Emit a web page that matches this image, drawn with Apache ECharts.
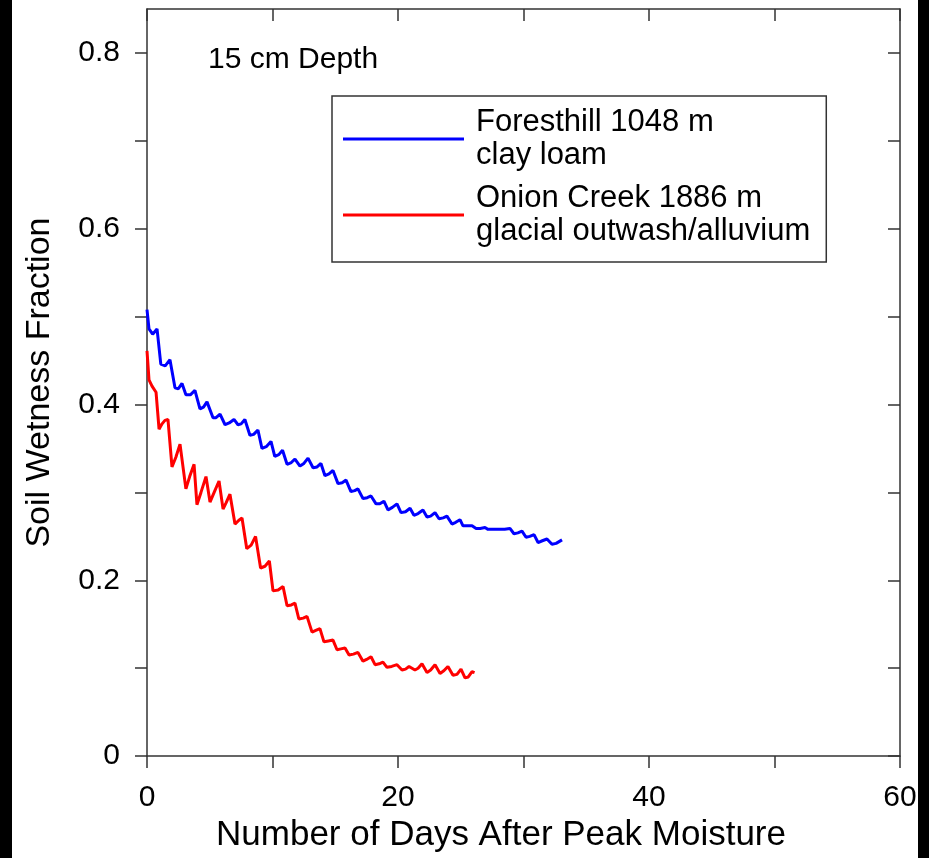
<!DOCTYPE html>
<html>
<head>
<meta charset="utf-8">
<script src="https://cdn.jsdelivr.net/npm/echarts@6/dist/echarts.min.js"></script>
<style>
html,body{margin:0;padding:0;background:#000;}
#chart{width:929px;height:858px;}
</style>
</head>
<body>
<div id="chart"></div>
<script>
// ---- Data ----
var seriesNames = ['Foresthill 1048 m', 'Onion Creek 1886 m'];
var soilTypes = ['clay loam', 'glacial outwash/alluvium'];
var seriesColors = ['#0000ff', '#ff0000'];
var annotationText = '15 cm Depth';
var xTitle = 'Number of Days After Peak Moisture';
var yTitle = 'Soil Wetness Fraction';
var xTickValues = [0, 10, 20, 30, 40, 50, 60];
var xLabelValues = [0, 20, 40, 60];
var yTickValues = [0, 0.1, 0.2, 0.3, 0.4, 0.5, 0.6, 0.7, 0.8];
var yLabelValues = [0, 0.2, 0.4, 0.6, 0.8];

var foresthillDays = [0.00,0.16,0.45,0.80,1.10,1.45,1.83,2.23,2.50,2.79,3.10,3.45,3.82,4.22,4.50,4.78,5.26,5.50,5.82,6.22,6.55,6.93,7.25,7.50,7.80,8.20,8.50,8.84,9.16,9.50,9.88,10.18,10.50,10.80,11.16,11.50,11.79,12.19,12.50,12.83,13.23,13.55,13.86,14.18,14.50,14.82,15.22,15.55,15.86,16.25,16.55,16.81,17.21,17.55,17.85,18.25,18.55,18.88,19.20,19.55,19.92,20.24,20.60,20.96,21.27,21.60,21.99,22.31,22.60,22.95,23.27,23.60,23.90,24.30,24.60,24.94,25.18,25.50,25.90,26.22,26.55,26.93,27.17,27.97,28.50,28.92,29.24,29.55,29.88,30.20,30.50,30.84,31.16,31.50,31.87,32.27,32.60,33.07];
var foresthillValues = [0.508,0.486,0.480,0.486,0.446,0.444,0.451,0.419,0.418,0.424,0.411,0.411,0.416,0.395,0.397,0.403,0.385,0.385,0.389,0.377,0.379,0.383,0.377,0.378,0.383,0.365,0.366,0.371,0.350,0.352,0.358,0.341,0.343,0.348,0.332,0.334,0.338,0.330,0.333,0.339,0.328,0.329,0.333,0.319,0.321,0.325,0.310,0.311,0.314,0.301,0.302,0.304,0.293,0.294,0.296,0.287,0.287,0.290,0.280,0.283,0.287,0.277,0.278,0.282,0.274,0.276,0.280,0.272,0.273,0.277,0.270,0.271,0.273,0.264,0.266,0.269,0.262,0.262,0.262,0.259,0.259,0.260,0.258,0.258,0.258,0.259,0.253,0.254,0.256,0.249,0.250,0.252,0.243,0.245,0.247,0.241,0.242,0.246];

var onionDays = [0.00,0.16,0.40,0.72,0.96,1.20,1.43,1.67,1.99,2.30,2.63,3.10,3.40,3.75,3.98,4.30,4.70,5.02,5.35,5.74,6.06,6.30,6.61,7.01,7.30,7.57,7.95,8.30,8.65,9.05,9.40,9.75,10.04,10.45,10.84,11.16,11.50,11.79,12.10,12.45,12.75,13.15,13.45,13.78,14.10,14.45,14.82,15.14,15.45,15.78,16.10,16.45,16.81,17.21,17.50,17.85,18.17,18.50,18.80,19.12,19.50,19.92,20.32,20.60,20.88,21.35,21.60,21.91,22.31,22.60,22.95,23.35,23.65,23.98,24.38,24.70,25.02,25.34,25.60,25.90,26.10];
var onionValues = [0.461,0.428,0.421,0.414,0.372,0.378,0.382,0.383,0.329,0.340,0.355,0.304,0.318,0.332,0.286,0.300,0.318,0.289,0.300,0.313,0.281,0.288,0.298,0.264,0.268,0.271,0.236,0.240,0.250,0.214,0.216,0.222,0.188,0.189,0.193,0.171,0.172,0.174,0.156,0.157,0.159,0.141,0.143,0.145,0.130,0.131,0.132,0.121,0.122,0.123,0.115,0.116,0.118,0.108,0.110,0.113,0.104,0.105,0.107,0.101,0.102,0.104,0.098,0.099,0.102,0.098,0.100,0.105,0.095,0.098,0.104,0.094,0.097,0.102,0.092,0.093,0.099,0.089,0.090,0.096,0.095];

function pairs(xs, ys) {
  var out = [];
  for (var i = 0; i < xs.length; i++) out.push([xs[i], ys[i]]);
  return out;
}

var FONT = '"Liberation Sans", Arial, sans-serif';
var AXIS_COLOR = '#333';

var chart = echarts.init(document.getElementById('chart'), null, {renderer: 'canvas'});

function xAxisDef(pos, inside, showLabel) {
  return {
    type: 'value', position: pos, min: 0, max: 60, interval: 10,
    name: pos === 'bottom' ? xTitle : '',
    nameLocation: 'middle', nameGap: 55,
    nameTextStyle: {fontFamily: FONT, fontSize: 35, color: '#000', padding: [0, 45, 0, 0]},
    axisLine: {show: true, onZero: false, lineStyle: {color: AXIS_COLOR, width: 1.5}},
    axisTick: {show: true, inside: inside, length: 12, customValues: xTickValues, lineStyle: {color: AXIS_COLOR, width: 1.5}},
    axisLabel: {show: showLabel, customValues: xLabelValues, margin: 27, fontFamily: FONT, fontSize: 30, color: '#000'},
    splitLine: {show: false}
  };
}
function yAxisDef(pos, inside, showLabel) {
  return {
    type: 'value', position: pos, min: 0, max: 0.85,
    name: pos === 'left' ? yTitle : '',
    nameLocation: 'middle', nameGap: 90,
    nameTextStyle: {fontFamily: FONT, fontSize: 34, color: '#000'},
    axisLine: {show: true, onZero: false, lineStyle: {color: AXIS_COLOR, width: 1.5}},
    axisTick: {show: true, inside: inside, length: 12, customValues: yTickValues, lineStyle: {color: AXIS_COLOR, width: 1.5}},
    axisLabel: {show: showLabel, customValues: yLabelValues, margin: 27, fontFamily: FONT, fontSize: 30, color: '#000',
      formatter: function (v) { return v === 0 ? '0' : v.toFixed(1); }},
    splitLine: {show: false}
  };
}

var option = {
  backgroundColor: '#000',
  animation: false,
  graphic: [
    {type: 'rect', z: -100, silent: true, shape: {x: 12, y: 0, width: 906, height: 858}, style: {fill: '#fff'}},
    {type: 'text', left: 208, top: 45, style: {text: annotationText, fontFamily: FONT, fontSize: 30, fill: '#000'}}
  ],
  grid: {left: 147, right: 29, top: 9, bottom: 97, containLabel: false},
  xAxis: [xAxisDef('bottom', false, true), xAxisDef('top', true, false)],
  yAxis: [yAxisDef('left', false, true), yAxisDef('right', true, false)],
  legend: {
    left: 332, top: 96, orient: 'vertical', align: 'left',
    padding: [10, 16, 14, 11],
    icon: 'rect',
    itemWidth: 121, itemHeight: 3, itemGap: 10,
    borderColor: '#333', borderWidth: 1.5, backgroundColor: '#fff',
    data: seriesNames,
    formatter: function (name) { return name + '\n' + soilTypes[seriesNames.indexOf(name)]; },
    textStyle: {fontFamily: FONT, fontSize: 31, color: '#000', lineHeight: 33, padding: [0, 0, 0, 7]}
  },
  series: [
    {name: seriesNames[0], type: 'line', symbol: 'none', data: pairs(foresthillDays, foresthillValues),
     lineStyle: {color: seriesColors[0], width: 3}, itemStyle: {color: seriesColors[0]}},
    {name: seriesNames[1], type: 'line', symbol: 'none', data: pairs(onionDays, onionValues),
     lineStyle: {color: seriesColors[1], width: 3}, itemStyle: {color: seriesColors[1]}}
  ]
};
chart.setOption(option);
</script>
</body>
</html>
